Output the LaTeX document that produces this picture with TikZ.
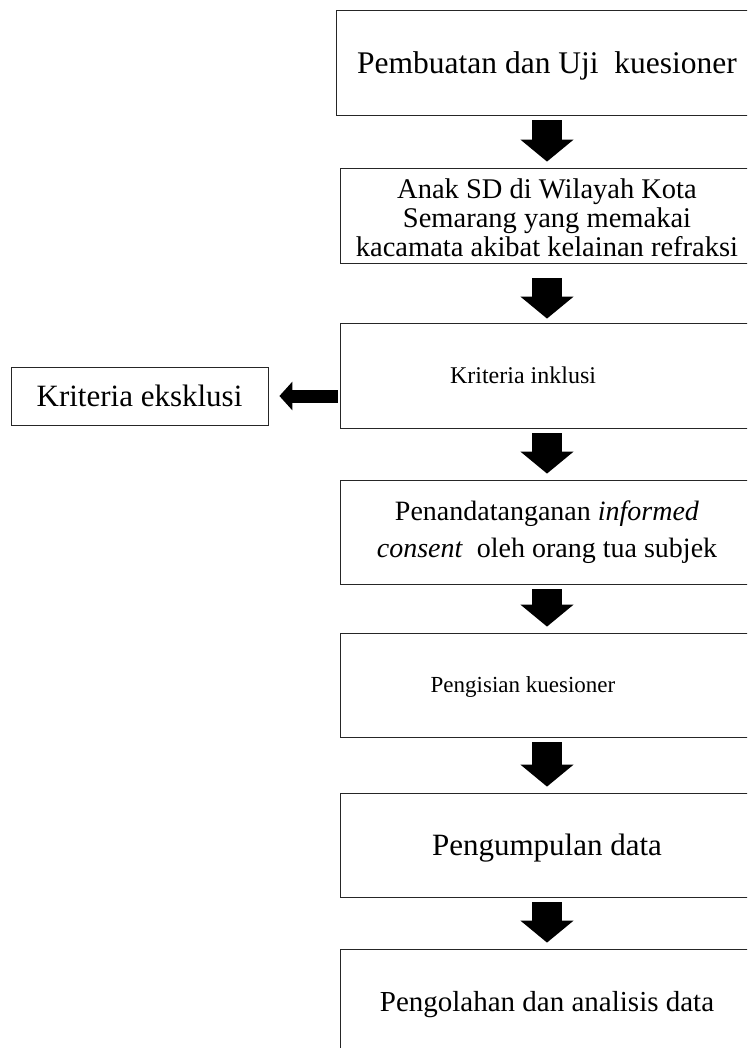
\documentclass[tikz,border=0pt]{standalone}
\usepackage{fontspec}
\setmainfont{Liberation Serif}
\usetikzlibrary{arrows.meta}

\tikzset{
  stepbox/.style={draw=black!85, line width=0.8pt, minimum width=414pt, inner sep=0pt, text depth=0pt},
  downarrow/.style={line width=30pt, -{Triangle[length=22pt,width=52pt]}, shorten <=5pt, shorten >=6pt},
  sidearrow/.style={line width=13pt, -{Triangle[length=13pt,width=28pt]}, shorten <=2pt, shorten >=11pt}
}

\begin{document}
\begin{tikzpicture}[x=1pt,y=-1pt]
  \clip (0,0) rectangle (747,1048);
  % boxes of the flow
  \node[stepbox, minimum width=422pt, minimum height=105pt, font=\fontsize{31.5}{33}\selectfont] (uji) at (547,62.5) {Pembuatan dan Uji\ \ kuesioner};
  \node[stepbox, align=center, minimum height=95pt, font=\fontsize{28.5}{29}\selectfont] (anak) at (547,215.5) {\rule{0pt}{24pt}Anak SD di Wilayah Kota\\Semarang yang memakai\\kacamata akibat kelainan refraksi};
  \node[stepbox, minimum height=105pt, font=\fontsize{24}{26}\selectfont] (inklusi) at (547,375.5) {Kriteria inklusi\kern48pt};
  \node[stepbox, align=center, text depth=, minimum height=104pt, font=\fontsize{28}{37}\selectfont] (consent) at (547,532) {Penandatanganan \textit{informed}\\\textit{consent}\ \ oleh orang tua subjek};
  \node[stepbox, minimum height=104pt, font=\fontsize{23}{25}\selectfont] (isi) at (547,685) {Pengisian kuesioner\kern48pt};
  \node[stepbox, minimum height=104pt, font=\fontsize{31}{33}\selectfont] (kumpul) at (547,845) {Pengumpulan data};
  \node[stepbox, minimum height=104pt, font=\fontsize{29}{31}\selectfont] (olah) at (547,1001) {Pengolahan dan analisis data};
  % box at the side
  \node[stepbox, minimum width=257pt, minimum height=58pt, font=\fontsize{31}{33}\selectfont] (eksklusi) at (139.5,396) {Kriteria eksklusi};
  % arrows
  \draw[downarrow] (uji) -- (anak);
  \draw[downarrow, shorten <=15pt, shorten >=4pt] (anak) -- (inklusi);
  \draw[downarrow] (inklusi) -- (consent);
  \draw[downarrow] (consent) -- (isi);
  \draw[downarrow] (isi) -- (kumpul);
  \draw[downarrow] (kumpul) -- (olah);
  \draw[sidearrow] (inklusi.west |- eksklusi.east) -- (eksklusi.east);
\end{tikzpicture}
\end{document}
